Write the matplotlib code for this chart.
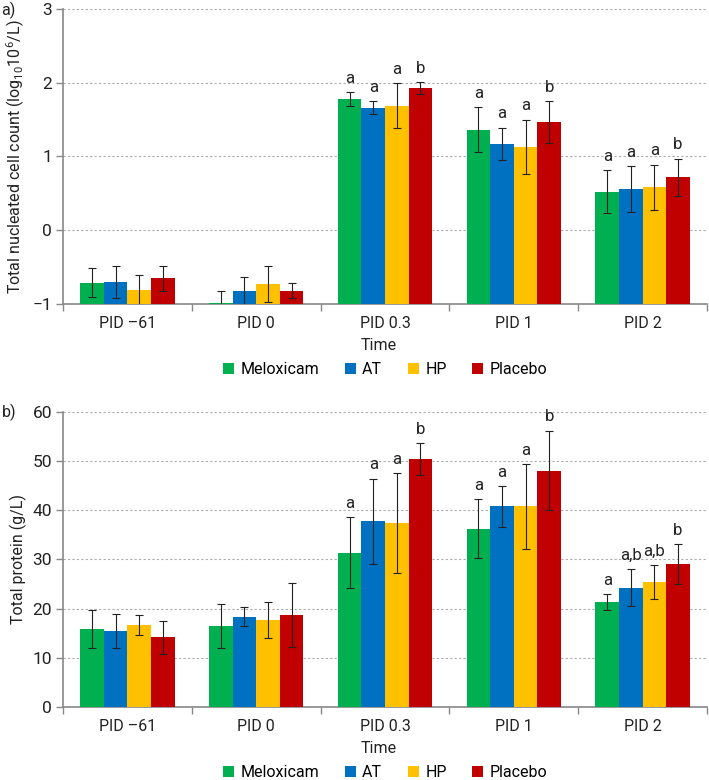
import matplotlib
matplotlib.use("Agg")
import matplotlib.pyplot as plt
import numpy as np

plt.rcParams['font.family'] = ['Roboto', 'DejaVu Sans']
plt.rcParams['mathtext.fontset'] = 'custom'
plt.rcParams['mathtext.rm'] = 'Roboto'
plt.rcParams['mathtext.it'] = 'Roboto:italic'

# data
times = ["PID \u201361", "PID 0", "PID 0.3", "PID 1", "PID 2"]
groups = ["Meloxicam", "AT", "HP", "Placebo"]
colors = ["#00B050", "#0070C0", "#FFC000", "#C00000"]

# panel a: total nucleated cell count (log10 10^6/L), mean and error
cells_mean = {
    "Meloxicam": [-0.71, -0.99, 1.78, 1.36, 0.52],
    "AT":        [-0.70, -0.83, 1.66, 1.17, 0.56],
    "HP":        [-0.81, -0.73, 1.69, 1.13, 0.58],
    "Placebo":   [-0.65, -0.82, 1.93, 1.47, 0.72],
}
cells_err = {
    "Meloxicam": [0.20, 0.16, 0.095, 0.305, 0.29],
    "AT":        [0.215, 0.19, 0.09, 0.22, 0.31],
    "HP":        [0.20, 0.25, 0.30, 0.37, 0.31],
    "Placebo":   [0.17, 0.10, 0.08, 0.285, 0.25],
}
cells_letters = {
    "Meloxicam": ["", "", "a", "a", "a"],
    "AT":        ["", "", "a", "a", "a"],
    "HP":        ["", "", "a", "a", "a"],
    "Placebo":   ["", "", "b", "b", "b"],
}

# panel b: total protein (g/L)
prot_mean = {
    "Meloxicam": [15.8, 16.4, 31.4, 36.3, 21.3],
    "AT":        [15.5, 18.4, 37.8, 40.8, 24.3],
    "HP":        [16.7, 17.7, 37.4, 40.8, 25.4],
    "Placebo":   [14.2, 18.7, 50.4, 48.1, 29.1],
}
prot_err = {
    "Meloxicam": [3.9, 4.45, 7.2, 5.95, 1.65],
    "AT":        [3.4, 2.0, 8.65, 4.1, 3.85],
    "HP":        [2.0, 3.6, 10.1, 8.65, 3.5],
    "Placebo":   [3.35, 6.5, 3.3, 8.1, 4.1],
}
prot_letters = {
    "Meloxicam": ["", "", "a", "a", "a"],
    "AT":        ["", "", "a", "a", "a,b"],
    "HP":        ["", "", "a", "a", "a,b"],
    "Placebo":   ["", "", "b", "b", "b"],
}

fig = plt.figure(figsize=(7.09, 7.8), dpi=100)
ax_a = fig.add_axes([0.0889, 0.6103, 0.9083, 0.3782])
ax_b = fig.add_axes([0.0889, 0.0936, 0.9083, 0.3782])

FS = 11.5
width = 0.183
x = np.arange(len(times))
AX_H = 295.0  # axes height in pixels


def draw_panel(ax, means, errs, letters, ylim, yticks, ylabel, tag, tag_y):
    base = ylim[0]
    for i, g in enumerate(groups):
        pos = x + (i - 1.5) * width
        m = np.array(means[g])
        ax.bar(pos, m - base, width, bottom=base, color=colors[i],
               label=g, zorder=3, linewidth=0)
        ax.errorbar(pos, m, yerr=errs[g], fmt='none', ecolor='#222222',
                    elinewidth=0.8, capsize=3, capthick=0.8, zorder=4)
        for j, lab in enumerate(letters[g]):
            if lab:
                ax.annotate(lab, (pos[j], m[j] + errs[g][j]),
                            xytext=(0, 4.5), textcoords='offset points',
                            ha='center', va='bottom', fontsize=FS + 0.5,
                            color='#222222')
    ax.set_xlim(-0.5, len(times) - 0.5)
    ax.set_ylim(*ylim)
    ax.set_yticks(yticks)
    ax.set_xticks(x)
    ax.set_xticklabels(times)
    ax.set_xticks(np.arange(-0.5, len(times)), minor=True)
    ax.tick_params(axis='x', which='major', length=0, pad=9, labelsize=FS,
                   colors='#222222')
    ax.tick_params(axis='x', which='minor', length=5, color='#888888',
                   width=1)
    ax.tick_params(axis='y', length=5, width=1,
                   labelsize=FS + 1, colors='#222222', pad=3)
    ax.tick_params(axis='y', color='#888888')
    ax.yaxis.grid(True, linestyle=(0, (2, 2)), color='#aaaaaa',
                  linewidth=0.8, zorder=0)
    ax.set_axisbelow(True)
    for s in ['top', 'right']:
        ax.spines[s].set_visible(False)
    for s in ['left', 'bottom']:
        ax.spines[s].set_color('#888888')
        ax.spines[s].set_linewidth(1.2)
    ax.set_ylabel(ylabel, fontsize=FS, color='#222222', labelpad=4)
    ax.set_xlabel("Time", fontsize=FS, color='#222222', va='center')
    ax.xaxis.set_label_coords(0.49, -42 / AX_H)
    ax.legend(loc='center', bbox_to_anchor=(0.5, -66 / AX_H), ncol=4,
              frameon=False, fontsize=FS, handlelength=0.7,
              handleheight=0.7, handletextpad=0.4, columnspacing=1.6,
              borderpad=0)
    fig.text(0.002, tag_y, tag, fontsize=FS, color='#222222', va='center')


draw_panel(ax_a, cells_mean, cells_err, cells_letters, (-1, 3),
           [-1, 0, 1, 2, 3],
           "Total nucleated cell count (log$_{10}$10$^{6}$/L)", "a)",
           1 - 10 / 780)
draw_panel(ax_b, prot_mean, prot_err, prot_letters, (0, 60),
           [0, 10, 20, 30, 40, 50, 60],
           "Total protein (g/L)", "b)", 1 - 412 / 780)

fig.savefig("out.png", dpi=100)
